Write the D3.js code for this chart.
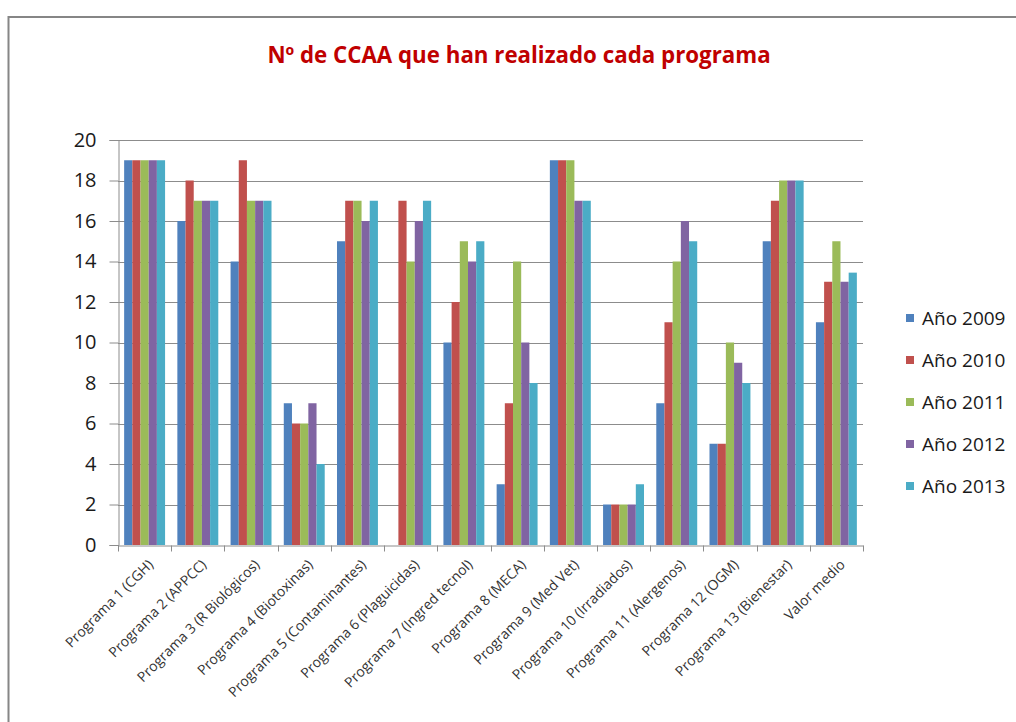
<!DOCTYPE html>
<html>
<head>
<meta charset="utf-8">
<script src="https://cdn.jsdelivr.net/npm/d3@7"></script>
<style>
  html, body { margin: 0; padding: 0; background: #fff; }
  svg { display: block; }
</style>
</head>
<body>
<script>
const categories = [
  "Programa 1 (CGH)", "Programa 2 (APPCC)", "Programa 3 (R Biológicos)",
  "Programa 4 (Biotoxinas)", "Programa 5 (Contaminantes)", "Programa 6 (Plaguicidas)",
  "Programa 7 (Ingred tecnol)", "Programa 8 (MECA)", "Programa 9 (Med Vet)",
  "Programa 10 (Irradiados)", "Programa 11 (Alergenos)", "Programa 12 (OGM)",
  "Programa 13 (Bienestar)", "Valor medio"
];
const seriesNames = ["Año 2009", "Año 2010", "Año 2011", "Año 2012", "Año 2013"];
const ano2009 = [19, 16, 14, 7, 15, null, 10, 3, 19, 2, 7, 5, 15, 11];
const ano2010 = [19, 18, 19, 6, 17, 17, 12, 7, 19, 2, 11, 5, 17, 13];
const ano2011 = [19, 17, 17, 6, 17, 14, 15, 14, 19, 2, 14, 10, 18, 15];
const ano2012 = [19, 17, 17, 7, 16, 16, 14, 10, 17, 2, 16, 9, 18, 13];
const ano2013 = [19, 17, 17, 4, 17, 17, 15, 8, 17, 3, 15, 8, 18, 13.45];
const yTicks = [0, 2, 4, 6, 8, 10, 12, 14, 16, 18, 20];
const colors = ["#4F81BD", "#C0504D", "#9BBB59", "#8064A2", "#4BACC6"];
const titleText = "Nº de CCAA que han realizado cada programa";

const series = [ano2009, ano2010, ano2011, ano2012, ano2013];

const W = 1016, H = 722;
const svg = d3.select("body").append("svg").attr("width", W).attr("height", H);

// outer chart frame
svg.append("rect")
  .attr("x", 8.5).attr("y", 17).attr("width", W + 20).attr("height", H + 20)
  .attr("fill", "#fff").attr("stroke", "#868686").attr("stroke-width", 2);

// title
svg.append("text")
  .attr("x", 519).attr("y", 63)
  .attr("text-anchor", "middle")
  .attr("font-family", "'Open Sans', sans-serif")
  .attr("font-weight", "bold")
  .attr("font-size", 22.3)
  .attr("fill", "#C00000")
  .text(titleText);

const pLeft = 118, pRight = 863, pTop = 140, pBottom = 545;

const x = d3.scaleBand().domain(categories).range([pLeft, pRight]).paddingInner(0).paddingOuter(0);
const y = d3.scaleLinear().domain([0, 20]).range([pBottom, pTop]);

const groupW = x.bandwidth() * 5 / 6.5;
const x1 = d3.scaleBand().domain(d3.range(5)).range([0, groupW]);

// gridlines
svg.append("g").selectAll("line").data(yTicks.filter(d => d > 0)).join("line")
  .attr("x1", pLeft).attr("x2", pRight)
  .attr("y1", d => Math.round(y(d)) + 0.5).attr("y2", d => Math.round(y(d)) + 0.5)
  .attr("stroke", "#8c8c8c").attr("stroke-width", 1);

// bars
const groups = svg.append("g").selectAll("g").data(categories).join("g")
  .attr("transform", c => `translate(${x(c) + (x.bandwidth() - groupW) / 2},0)`);
groups.selectAll("rect")
  .data((c, i) => series.map((s, k) => ({ k, v: s[i] })).filter(d => d.v != null))
  .join("rect")
  .attr("x", d => x1(d.k))
  .attr("width", x1.bandwidth())
  .attr("y", d => y(d.v))
  .attr("height", d => y(0) - y(d.v))
  .attr("fill", d => colors[d.k]);

// y axis
const yAxis = d3.axisLeft(y).tickValues(yTicks).tickSize(9).tickPadding(13);
const gy = svg.append("g").attr("transform", `translate(${pLeft + 0.5},0)`).call(yAxis);
gy.select(".domain").attr("stroke", "#8c8c8c");
gy.selectAll(".tick line").attr("stroke", "#8c8c8c");
gy.selectAll(".tick text")
  .attr("font-family", "'Open Sans', sans-serif")
  .attr("font-size", 20)
  .attr("fill", "#1a1a1a");

// x axis
const xAxis = d3.axisBottom(x).tickSize(0).tickFormat("");
const gx = svg.append("g").attr("transform", `translate(0,${pBottom + 0.5})`).call(xAxis);
gx.select(".domain").attr("stroke", "#8c8c8c");
const boundaries = d3.range(categories.length + 1).map(i => pLeft + i * x.bandwidth());
gx.selectAll("line.bt").data(boundaries).join("line").attr("class", "bt")
  .attr("x1", d => Math.round(d) + 0.5).attr("x2", d => Math.round(d) + 0.5)
  .attr("y1", 0).attr("y2", 6)
  .attr("stroke", "#8c8c8c");

// x labels rotated
svg.append("g").selectAll("text").data(categories).join("text")
  .attr("transform", c => `translate(${x(c) + x.bandwidth() / 2 + 6},${pBottom + 17}) rotate(-45)`)
  .attr("text-anchor", "end")
  .attr("dy", "0.35em")
  .attr("font-family", "'Open Sans', sans-serif")
  .attr("font-size", 14)
  .attr("fill", "#333")
  .text(c => c);

// legend
const lg = svg.append("g");
const ly = d3.scalePoint().domain(seriesNames).range([318, 486]);
seriesNames.forEach((n, k) => {
  lg.append("rect").attr("x", 906).attr("y", ly(n) - 4).attr("width", 8).attr("height", 8).attr("fill", colors[k]);
  lg.append("text").attr("x", 922).attr("y", ly(n)).attr("dy", "0.35em")
    .attr("font-family", "'Open Sans', sans-serif")
    .attr("font-size", 19)
    .attr("fill", "#1a1a1a")
    .text(n);
});
</script>
</body>
</html>
